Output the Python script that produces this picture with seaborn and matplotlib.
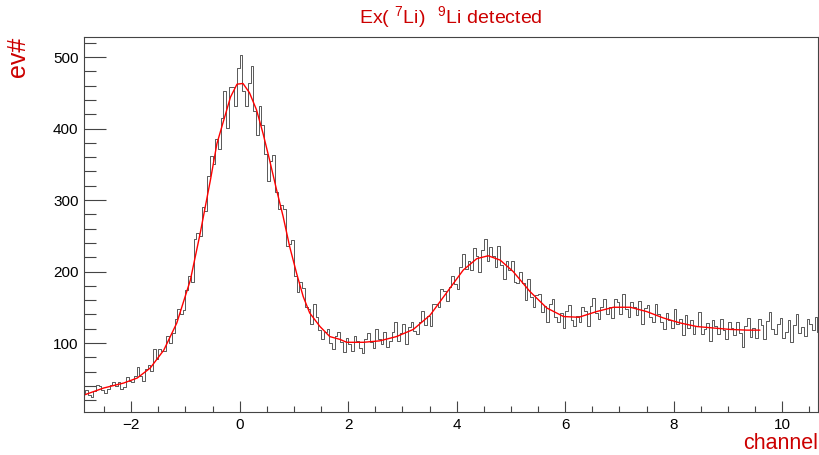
"""
Ex(7Li) spectrum with 9Li detected - histogram + fit curve
"""
import numpy as np
import pandas as pd
import seaborn as sns
import matplotlib.pyplot as plt
from matplotlib.ticker import MultipleLocator

# histogram: first bin edge, bin width, counts per bin
BIN_START = -2.9
BIN_WIDTH = 0.05
counts = [
    30, 34, 27, 25, 33, 41, 40, 34, 30, 35, 41, 45, 40, 45, 36, 39, 52, 47, 45, 54,
    67, 54, 47, 63, 69, 61, 92, 77, 91, 89, 89, 110, 100, 114, 133, 148, 141, 146, 174, 194,
    186, 245, 254, 250, 290, 284, 333, 362, 351, 386, 372, 415, 452, 401, 458, 458, 431, 485, 503, 452,
    432, 463, 488, 424, 391, 432, 405, 364, 326, 355, 363, 311, 287, 293, 287, 236, 238, 244, 194, 172,
    185, 177, 151, 148, 127, 154, 136, 118, 106, 116, 119, 100, 92, 110, 116, 102, 88, 107, 98, 89,
    110, 103, 93, 86, 106, 114, 101, 93, 120, 106, 98, 115, 95, 103, 116, 129, 103, 114, 127, 99,
    123, 129, 117, 113, 130, 145, 125, 138, 124, 155, 154, 150, 175, 173, 159, 179, 194, 182, 176, 206,
    225, 204, 215, 202, 233, 222, 200, 230, 245, 215, 234, 222, 206, 235, 209, 189, 214, 202, 214, 185,
    184, 199, 184, 160, 189, 165, 151, 167, 169, 143, 152, 129, 154, 161, 136, 129, 142, 121, 145, 153,
    132, 124, 138, 129, 151, 145, 124, 152, 163, 142, 134, 150, 161, 141, 150, 135, 161, 157, 140, 169,
    147, 137, 158, 151, 139, 159, 127, 149, 153, 136, 129, 154, 140, 129, 120, 142, 132, 121, 148, 127,
    134, 111, 139, 121, 132, 112, 124, 144, 113, 119, 128, 103, 132, 124, 112, 134, 118, 106, 129, 121,
    111, 130, 114, 94, 124, 135, 108, 121, 107, 133, 125, 106, 131, 144, 120, 112, 126, 135, 107, 116,
    132, 102, 125, 140, 114, 123, 110, 133, 127, 118, 136, 116,
]

# fit function
fit_x = [-2.88, -2.51, -2.14, -1.89, -1.65, -1.40, -1.16, -0.91, -0.73, -0.54,
         -0.42, -0.17, -0.05, 0.06, 0.18, 0.31, 0.43, 0.55, 0.68, 0.80,
         0.92, 1.05, 1.17, 1.29, 1.48, 1.66, 1.85, 1.97, 2.28, 2.58,
         2.89, 3.20, 3.51, 3.81, 4.12, 4.37, 4.58, 4.80, 5.04, 5.35,
         5.66, 5.97, 6.25, 6.58, 6.89, 7.20, 7.50, 7.81, 8.12, 8.43,
         8.73, 9.04, 9.35, 9.59]
fit_y = [27, 37, 44, 51, 65, 90, 128, 188, 253, 328,
         379, 444, 462, 463, 450, 426, 393, 356, 314, 277,
         235, 197, 165, 142, 123, 109, 105, 101, 101, 103,
         109, 119, 139, 170, 202, 218, 222, 216, 200, 172,
         149, 137, 136, 144, 150, 150, 144, 135, 128, 123,
         121, 119, 118, 118]

TITLE_RED = '#cc0000'

sns.set_theme(style='ticks')
plt.rcParams['font.family'] = ['Liberation Sans', 'DejaVu Sans']
plt.rcParams['mathtext.default'] = 'regular'

fig = plt.figure(figsize=(8.19, 4.55), dpi=100)
ax = fig.add_axes([0.1026, 0.0945, 0.8962, 0.8242])

n_bins = len(counts)
bin_end = BIN_START + BIN_WIDTH * n_bins
df = pd.DataFrame({
    'channel': BIN_START + BIN_WIDTH * (np.arange(n_bins) + 0.5),
    'counts': counts,
})

sns.histplot(data=df, x='channel', weights='counts', binwidth=BIN_WIDTH,
             binrange=(BIN_START, bin_end), element='step', fill=False,
             color='#4d4d4d', linewidth=0.65, ax=ax)
sns.lineplot(x=fit_x, y=fit_y, color='#ff0000', linewidth=1.0, sort=False, ax=ax)

ax.set_xlim(-2.87, 10.66)
ax.set_ylim(3.5, 528)

# ROOT-like axes: inward ticks on left/bottom only
ax.xaxis.set_major_locator(MultipleLocator(2))
ax.xaxis.set_minor_locator(MultipleLocator(0.5))
ax.yaxis.set_major_locator(MultipleLocator(100))
ax.yaxis.set_minor_locator(MultipleLocator(20))
ax.tick_params(which='both', bottom=True, left=True, top=False, right=False)
ax.tick_params(axis='x', which='major', direction='in', length=8, width=0.8,
               color='#444444', labelsize=11, pad=4, labelcolor='black')
ax.tick_params(axis='x', which='minor', direction='in', length=4, width=0.8, color='#444444')
ax.tick_params(axis='y', which='major', direction='in', length=16, width=0.8,
               color='#444444', labelsize=11, pad=4, labelcolor='black')
ax.tick_params(axis='y', which='minor', direction='in', length=8.5, width=0.8, color='#444444')
for sp in ax.spines.values():
    sp.set_visible(True)
    sp.set_color('#444444')
    sp.set_linewidth(0.8)

ax.set_xlabel('channel', fontsize=15.5, color=TITLE_RED, loc='right')
ax.xaxis.set_label_coords(1.0, -0.055)
ax.set_ylabel('ev#', fontsize=18, color=TITLE_RED, loc='top')
ax.yaxis.set_label_coords(-0.074, 1.0)

ax.set_title(r'$\mathregular{Ex(\ {}^{7}Li)\ \ {}^{9}Li\ detected}$',
             fontsize=14, color=TITLE_RED, pad=10)

fig.savefig('out.png', dpi=100)
